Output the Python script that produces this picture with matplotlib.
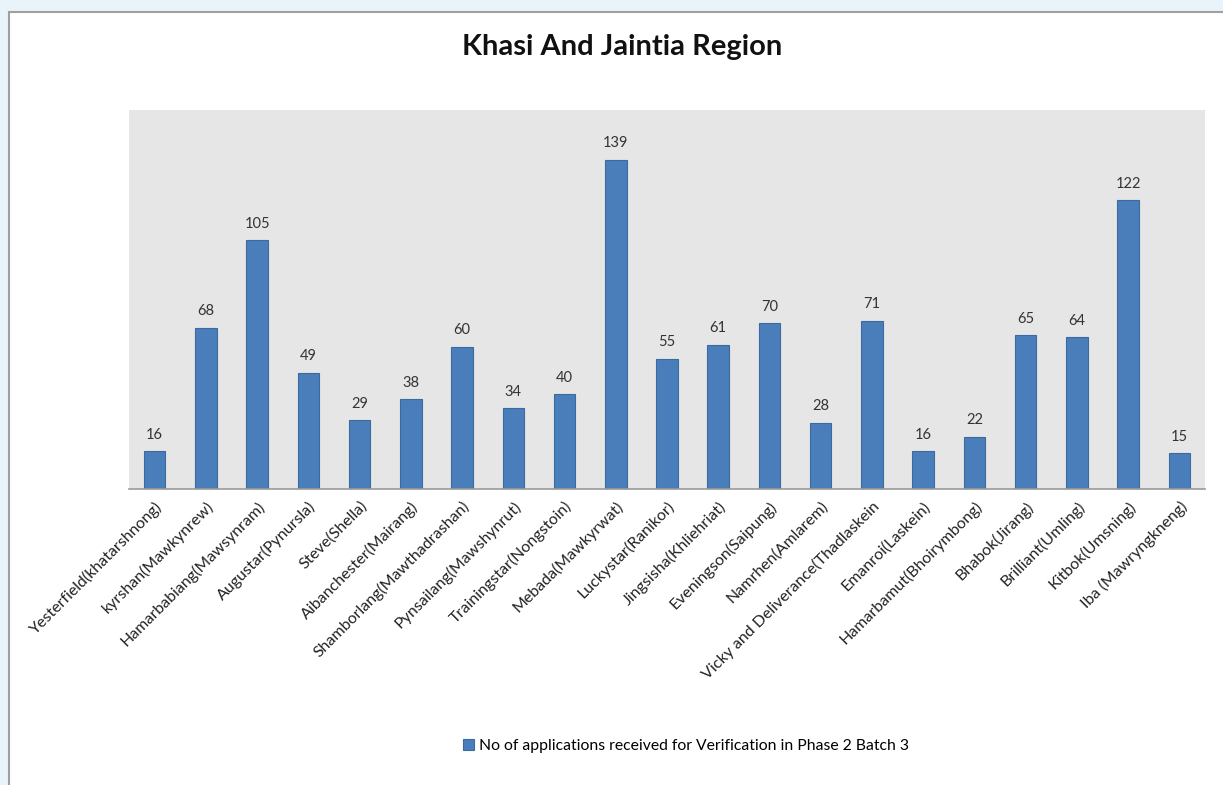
import matplotlib
matplotlib.use("Agg")
import matplotlib.pyplot as plt
from matplotlib.patches import Rectangle

categories = [
    "Yesterfield(khatarshnong)", "kyrshan(Mawkynrew)", "Hamarbabiang(Mawsynram)",
    "Augustar(Pynursla)", "Steve(Shella)", "Aibanchester(Mairang)",
    "Shamborlang(Mawthadrashan)", "Pynsailang(Mawshynrut)", "Trainingstar(Nongstoin)",
    "Mebada(Mawkyrwat)", "Luckystar(Ranikor)", "Jingsisha(Khliehriat)",
    "Eveningson(Saipung)", "Namrhen(Amlarem)", "Vicky and Deliverance(Thadlaskein",
    "Emanroi(Laskein)", "Hamarbamut(Bhoirymbong)", "Bhabok(Jirang)",
    "Brilliant(Umling)", "Kitbok(Umsning)", "Iba (Mawryngkneng)",
]
values = [16, 68, 105, 49, 29, 38, 60, 34, 40, 139, 55, 61, 70, 28, 71, 16, 22, 65, 64, 122, 15]
series_name = "No of applications received for Verification in Phase 2 Batch 3"
title = "Khasi And Jaintia Region"

plt.rcParams['font.family'] = ['Lato', 'DejaVu Sans']

W, H = 1223, 785
fig = plt.figure(figsize=(W / 100, H / 100), dpi=100)
fig.patch.set_facecolor('#E8F3FA')

# white chart area with grey border
fig.patches.append(Rectangle((9 / W, -0.01), 1.0, 1.01 - 12 / H, transform=fig.transFigure,
                             facecolor='white', edgecolor='#A0A0A0', linewidth=1.5, zorder=-5))

x0, x1 = 129, 1205
y0, y1 = 110, 489
ax = fig.add_axes([x0 / W, 1 - y1 / H, (x1 - x0) / W, (y1 - y0) / H])
ax.set_zorder(2)
ax.set_facecolor('#E6E6E6')

xs = range(len(categories))
ax.bar(xs, values, width=0.42, color='#4A7EBB', edgecolor='#3B6A9E', linewidth=0.8,
       label=series_name, zorder=2)
for x, v in zip(xs, values):
    ax.text(x, v + 4, str(v), ha='center', va='bottom', fontsize=10.5, color='#333333')

ax.set_xlim(-0.5, len(categories) - 0.5)
ax.set_ylim(0, 160)
ax.set_yticks([])
ax.set_xticks(list(xs))
ax.set_xticklabels(categories, rotation=45, ha='right', va='top', rotation_mode='anchor',
                   fontsize=11.5, color='#222222')
ax.tick_params(axis='x', length=0, pad=7)
for s in ['top', 'right', 'left']:
    ax.spines[s].set_visible(False)
ax.spines['bottom'].set_color('#9A9A9A')
ax.spines['bottom'].set_linewidth(1.2)

fig.text(622 / W, 1 - 47 / H, title, ha='center', va='center', fontsize=21, fontweight='bold',
         color='#111111')

handles, labels = ax.get_legend_handles_labels()
fig.legend(handles, labels, loc='center', bbox_to_anchor=(686 / W, 1 - 746 / H), frameon=False,
           fontsize=11.3, handlelength=0.7, handleheight=0.7, handletextpad=0.3)

fig.savefig('out.png', dpi=100, facecolor=fig.get_facecolor())
